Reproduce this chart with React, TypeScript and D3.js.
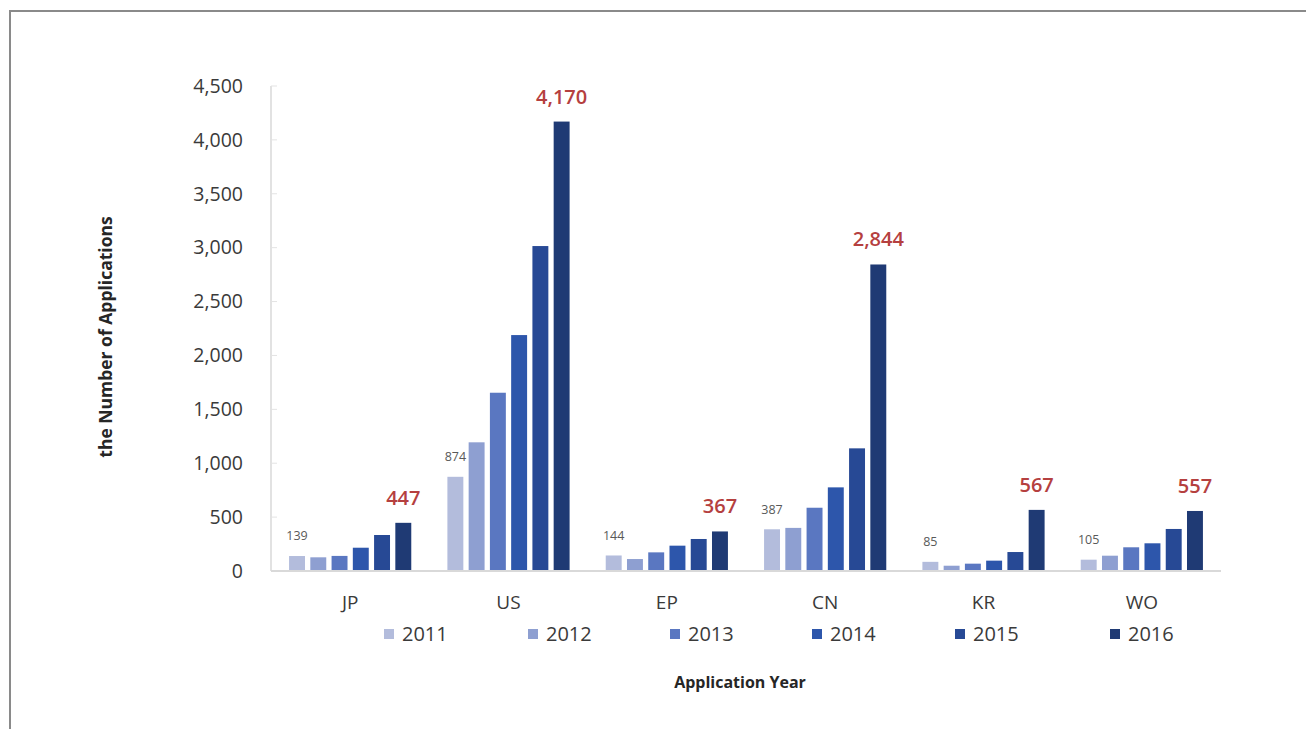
import React from "react";
import * as d3 from "d3";

const categories = ["JP", "US", "EP", "CN", "KR", "WO"];
const years = ["2011", "2012", "2013", "2014", "2015", "2016"];
const v2011 = [139, 874, 144, 387, 85, 105];
const v2012 = [127, 1194, 111, 400, 49, 142];
const v2013 = [140, 1654, 173, 587, 68, 220];
const v2014 = [216, 2189, 235, 776, 96, 257];
const v2015 = [334, 3015, 297, 1138, 176, 390];
const v2016 = [447, 4170, 367, 2844, 567, 557];
const yTicks = [0, 500, 1000, 1500, 2000, 2500, 3000, 3500, 4000, 4500];
const colors = ["#b3bcdc", "#8e9fd1", "#5a77c1", "#2d56ab", "#274995", "#1f3a74"];

const series = [v2011, v2012, v2013, v2014, v2015, v2016];

export default function App() {
  const W = 1306, H = 729;
  const x0 = d3.scaleBand<string>().domain(categories).range([271, 1221]).padding(0);
  const x1 = d3.scaleBand<string>().domain(years).range([0, x0.bandwidth()]).paddingInner(0.25).paddingOuter(0.85);
  const y = d3.scaleLinear().domain([0, 4500]).range([571, 86]);
  const fmt = d3.format(",");
  const font = "'Open Sans', sans-serif";
  const legendX = [384, 528, 670, 812, 955, 1110];

  return (
    <svg width={W} height={H} style={{ position: "absolute", left: 0, top: 0, background: "#fff" }} fontFamily={font}>
      <rect x={0} y={0} width={W} height={H} fill="#fff" />
      <rect x={10} y={11} width={W} height={H} fill="none" stroke="#8a8a8a" strokeWidth={2} />
      {/* y axis */}
      <line x1={271} x2={271} y1={y(4500)} y2={y(0)} stroke="#d9d9d9" strokeWidth={1.5} />
      {yTicks.map((t) => (
        <g key={t}>
          <line x1={271} x2={277} y1={y(t)} y2={y(t)} stroke="#e3e3e3" strokeWidth={1} />
          <text x={243} y={y(t)} dy="0.35em" textAnchor="end" fontSize={19.5} fill="#3a3a3a">
            {fmt(t)}
          </text>
        </g>
      ))}
      {/* bars */}
      {categories.map((c, ci) => (
        <g key={c} transform={`translate(${x0(c)},0)`}>
          {series.map((s, si) => (
            <rect
              key={si}
              x={x1(years[si])}
              y={y(s[ci])}
              width={x1.bandwidth()}
              height={y(0) - y(s[ci])}
              fill={colors[si]}
            />
          ))}
          <text
            x={(x1(years[0]) as number) + x1.bandwidth() / 2}
            y={y(v2011[ci]) - 20}
            dy="0.35em"
            textAnchor="middle"
            fontSize={12.5}
            fill="#595959"
          >
            {fmt(v2011[ci])}
          </text>
          <text
            x={(x1(years[5]) as number) + x1.bandwidth() / 2}
            y={y(v2016[ci]) - 25}
            dy="0.35em"
            textAnchor="middle"
            fontSize={20}
            fontWeight={600}
            fill="#b5403f"
          >
            {fmt(v2016[ci])}
          </text>
          <text
            x={x0.bandwidth() / 2}
            y={602}
            dy="0.35em"
            textAnchor="middle"
            fontSize={19}
            fill="#3a3a3a"
          >
            {c}
          </text>
        </g>
      ))}
      {/* baseline */}
      <line x1={271} x2={1221} y1={y(0)} y2={y(0)} stroke="#d9d9d9" strokeWidth={2} />
      {/* legend */}
      {years.map((yr, i) => (
        <g key={yr} transform={`translate(${legendX[i]},634)`}>
          <rect x={0} y={-5} width={10} height={10} fill={colors[i]} />
          <text x={18} y={0} dy="0.35em" fontSize={20} fill="#3a3a3a">
            {yr}
          </text>
        </g>
      ))}
      {/* axis titles */}
      <text x={740} y={682} dy="0.35em" textAnchor="middle" fontSize={16} fontWeight={700} fill="#262626">
        Application Year
      </text>
      <text
        transform={`translate(106,337) rotate(-90)`}
        dy="0.35em"
        textAnchor="middle"
        fontSize={17.5}
        fontWeight={700}
        fill="#262626"
      >
        the Number of Applications
      </text>
    </svg>
  );
}
